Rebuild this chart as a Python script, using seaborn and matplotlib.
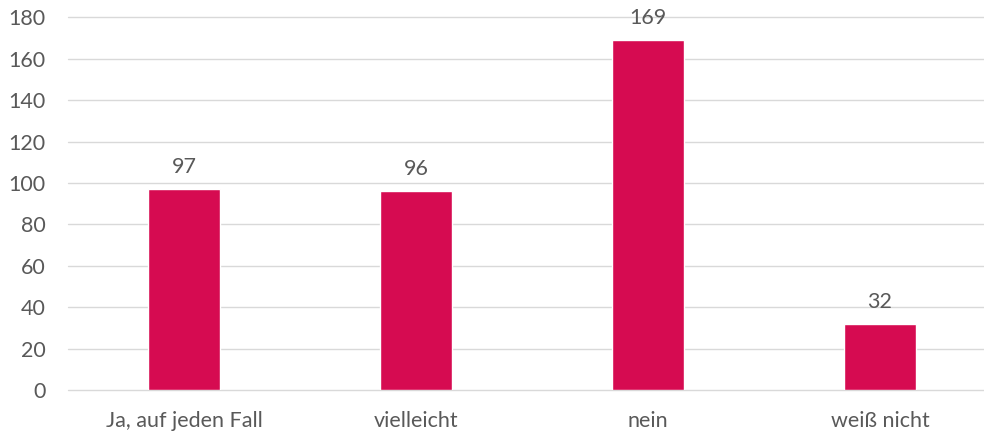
import pandas as pd
import matplotlib.pyplot as plt
import seaborn as sns

categories = ["Ja, auf jeden Fall", "vielleicht", "nein", "weiß nicht"]
values = [97, 96, 169, 32]

bar_color = "#D60B51"
text_color = "#595959"
grid_color = "#D9D9D9"

df = pd.DataFrame({"Antwort": categories, "Anzahl": values})

sns.set_style("white")
plt.rcParams["font.family"] = ["Lato", "DejaVu Sans"]

fig = plt.figure(figsize=(9.84, 4.32), dpi=100)
ax = fig.add_axes([68 / 984, 1 - 390 / 432, 928 / 984, 372.5 / 432])

sns.barplot(x="Antwort", y="Anzahl", data=df, color=bar_color, width=0.313,
            saturation=1, ax=ax, zorder=3)

ax.set_ylim(0, 180)
ax.set_xlim(-0.5, 3.5)
ax.set_yticks(range(0, 181, 20))
ax.yaxis.grid(True, color=grid_color, linewidth=1.0, zorder=0)
for gl in ax.get_ygridlines():
    gl.set_clip_on(False)
ax.set_axisbelow(True)
for s in ax.spines.values():
    s.set_visible(False)

fs = 15.5
ax.tick_params(axis="y", length=0, pad=16, labelsize=fs, labelcolor=text_color)
ax.tick_params(axis="x", length=0, pad=15, labelsize=fs, labelcolor=text_color)
ax.set_xlabel("")
ax.set_ylabel("")

for i, v in enumerate(values):
    ax.annotate(str(v), (i, v), xytext=(0, 11.5), textcoords="offset points",
                ha="center", va="baseline", fontsize=fs, color=text_color)

fig.savefig("out.png", dpi=100)
